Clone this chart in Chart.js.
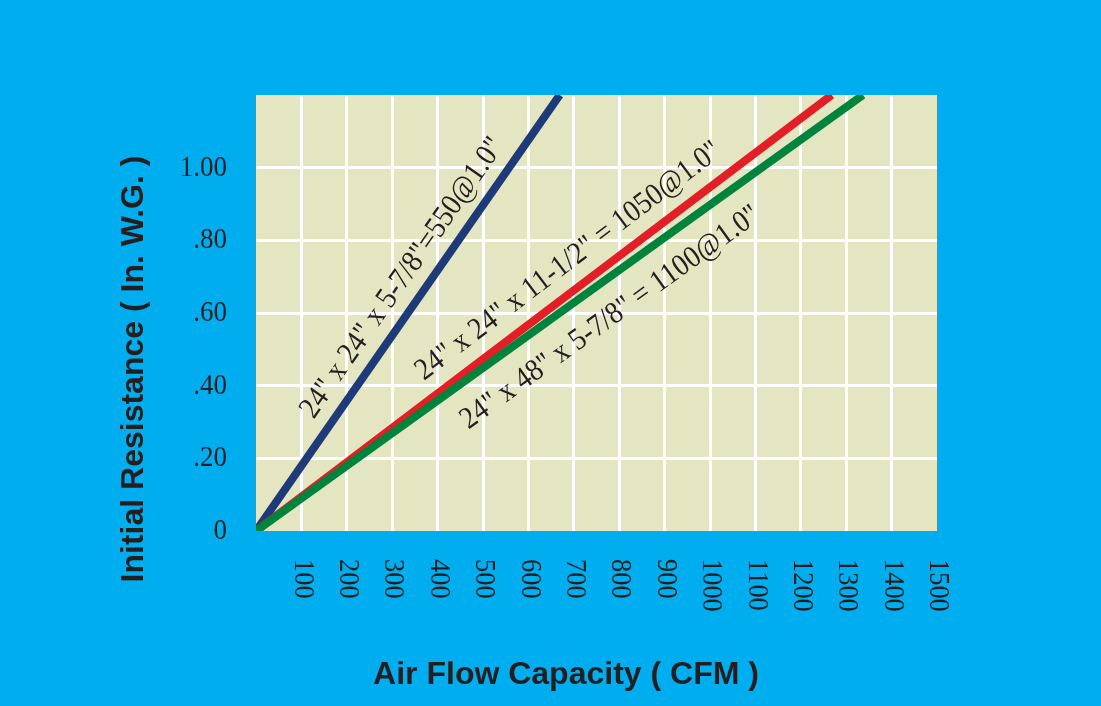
<!DOCTYPE html>
<html>
<head>
<meta charset="utf-8">
<script src="https://cdn.jsdelivr.net/npm/chart.js@4/dist/chart.umd.min.js"></script>
<style>
  html, body { margin: 0; padding: 0; background: #00AEEF; }
  #wrap { width: 1101px; height: 706px; }
</style>
</head>
<body>
<div id="wrap"><canvas id="chart"></canvas></div>
<script>
// series: filter size lines, from the origin to where they leave the top of the grid
const seriesNames = [
    '24" x 24" x 5-7/8"=550@1.0"',
    '24" x 24" x 11-1/2" = 1050@1.0"',
    '24" x 48" x 5-7/8" = 1100@1.0"'
];
const blueCfm = [0, 669];
const blueRes = [0, 1.2];
const redCfm = [0, 1268];
const redRes = [0, 1.2];
const greenCfm = [0, 1337];
const greenRes = [0, 1.2];

// where each label starts (in CFM / in. W.G.)
const labelCfm = [127, 370, 468];
const labelRes = [0.306, 0.413, 0.279];

const xTickLabels = ['100', '200', '300', '400', '500', '600', '700', '800', '900', '1000', '1100', '1200', '1300', '1400', '1500'];
const yTickValues = [0, 0.2, 0.4, 0.6, 0.8, 1.0];
const yTickLabels = ['0', '.20', '.40', '.60', '.80', '1.00'];

const xTitle = 'Air Flow Capacity ( CFM )';
const yTitle = 'Initial Resistance ( In. W.G. )';

const INK = '#231F20';
const SERIF = '"Liberation Serif", "Times New Roman", serif';
const SANS = '"Liberation Sans", Arial, sans-serif';

function toPoints(xs, ys) {
    return xs.map((x, i) => ({ x: x, y: ys[i] }));
}

// the print uses a slightly narrow Times, so squeeze the text a little
function drawText(ctx, text, x, y, angle, sx) {
    ctx.save();
    ctx.translate(x, y);
    ctx.rotate(angle);
    ctx.scale(sx, 1);
    ctx.fillText(text, 0, 0);
    ctx.restore();
}

// beige plot area behind the grid
const plotBg = {
    id: 'plotBg',
    beforeDraw(chart) {
        const { ctx, chartArea: a } = chart;
        ctx.save();
        ctx.fillStyle = '#E4E6C2';
        ctx.fillRect(a.left, a.top, a.right - a.left, a.bottom - a.top);
        ctx.restore();
    }
};

// tick labels, axis titles, line labels
const extras = {
    id: 'extras',
    afterDraw(chart) {
        const { ctx, chartArea: a } = chart;
        const xs = chart.scales.x, ys = chart.scales.y;
        ctx.save();
        ctx.fillStyle = INK;

        ctx.font = '30px ' + SERIF;
        ctx.textAlign = 'left';
        ctx.textBaseline = 'middle';
        xTickLabels.forEach(t => {
            drawText(ctx, t, xs.getPixelForValue(Number(t)) + 1, a.bottom + 28, Math.PI / 2, 0.88);
        });

        ctx.textAlign = 'right';
        yTickValues.forEach((v, i) => {
            drawText(ctx, yTickLabels[i], a.left - 29, ys.getPixelForValue(v), 0, 0.9);
        });

        ctx.font = 'bold 32px ' + SANS;
        ctx.textAlign = 'center';
        ctx.textBaseline = 'alphabetic';
        ctx.fillText(xTitle, 566, 684);
        drawText(ctx, yTitle, 143, 369, -Math.PI / 2, 1);

        ctx.font = '31px ' + SERIF;
        ctx.textAlign = 'left';
        chart.data.datasets.forEach(ds => {
            const p0 = ds.data[0], p1 = ds.data[ds.data.length - 1];
            const dx = xs.getPixelForValue(p1.x) - xs.getPixelForValue(p0.x);
            const dy = ys.getPixelForValue(p1.y) - ys.getPixelForValue(p0.y);
            const k = ds.labelIndex;
            drawText(ctx, seriesNames[k], xs.getPixelForValue(labelCfm[k]), ys.getPixelForValue(labelRes[k]),
                Math.atan2(dy, dx), 0.9);
        });
        ctx.restore();
    }
};

const lineStyle = { borderWidth: 8, pointRadius: 0, fill: false, clip: 0, tension: 0 };

new Chart(document.getElementById('chart'), {
    type: 'line',
    data: {
        datasets: [
            { ...lineStyle, label: seriesNames[0], labelIndex: 0, data: toPoints(blueCfm, blueRes), borderColor: '#1F3A78', order: 2 },
            { ...lineStyle, label: seriesNames[1], labelIndex: 1, data: toPoints(redCfm, redRes), borderColor: '#E31E26', order: 1 },
            { ...lineStyle, label: seriesNames[2], labelIndex: 2, data: toPoints(greenCfm, greenRes), borderColor: '#00843D', order: 0 }
        ]
    },
    options: {
        responsive: true,
        maintainAspectRatio: false,
        animation: false,
        layout: { padding: { top: 95, right: 164, left: 0, bottom: 0 } },
        plugins: { legend: { display: false }, tooltip: { enabled: false } },
        scales: {
            x: {
                type: 'linear',
                min: 0, max: 1500,
                afterFit(scale) { scale.height = 175; },
                border: { display: false },
                grid: {
                    drawTicks: false,
                    lineWidth: 3,
                    color: c => (c.tick && (c.tick.value === 0 || c.tick.value === 1500)) ? 'rgba(0,0,0,0)' : '#FFFFFF'
                },
                ticks: { stepSize: 100, display: false }
            },
            y: {
                min: 0, max: 1.2,
                afterFit(scale) { scale.width = 256; },
                border: { display: false },
                grid: {
                    drawTicks: false,
                    lineWidth: 3,
                    color: c => (c.tick && (c.tick.value === 0 || c.tick.value >= 1.2)) ? 'rgba(0,0,0,0)' : '#FFFFFF'
                },
                ticks: { stepSize: 0.2, display: false }
            }
        }
    },
    plugins: [plotBg, extras]
});
</script>
</body>
</html>
